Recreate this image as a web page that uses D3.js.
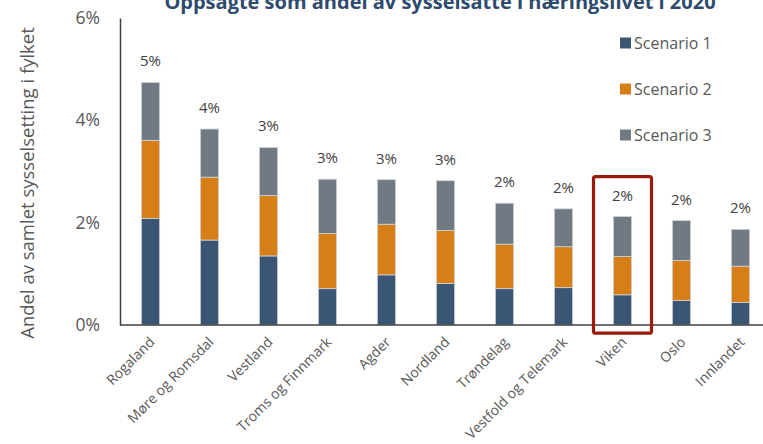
<!DOCTYPE html>
<html><head><meta charset="utf-8">
<script src="https://cdn.jsdelivr.net/npm/d3@7"></script>
<style>body{margin:0;background:#fff}svg{display:block;font-family:"Open Sans",sans-serif}</style>
</head><body><svg id="c" width="763" height="444"></svg>
<script>
const categories = ["Rogaland","Møre og Romsdal","Vestland","Troms og Finnmark","Agder","Nordland","Trøndelag","Vestfold og Telemark","Viken","Oslo","Innlandet"];
const seriesNames = ["Scenario 1","Scenario 2","Scenario 3"];
const scenario1 = [2.08,1.66,1.35,0.71,0.98,0.81,0.71,0.73,0.59,0.48,0.44];
const scenario2 = [1.53,1.23,1.18,1.08,0.99,1.04,0.87,0.80,0.75,0.78,0.71];
const scenario3 = [1.13,0.94,0.94,1.06,0.87,0.97,0.80,0.74,0.78,0.78,0.72];
const yTicks = [0,2,4,6];
const highlighted = "Viken";
const colors = ["#3A5674","#D67F17","#717A82"];

const svg = d3.select("#c");
const x = d3.scaleBand().domain(categories).range([121,770]).paddingInner(0.69).paddingOuter(0.345);
const y = d3.scaleLinear().domain([0,6]).range([325,18]);

const rows = categories.map((c,i)=>({cat:c,"Scenario 1":scenario1[i],"Scenario 2":scenario2[i],"Scenario 3":scenario3[i]}));
const stacked = d3.stack().keys(seriesNames)(rows);

// title
svg.append("text").attr("x",440).attr("y",9).attr("text-anchor","middle")
  .attr("font-size",20).attr("font-weight","bold").attr("fill","#2E4B6E")
  .text("Oppsagte som andel av sysselsatte i næringslivet i 2020");

// bars
svg.append("g").selectAll("g").data(stacked).join("g").attr("fill",(d,i)=>colors[i])
  .selectAll("rect").data(d=>d).join("rect")
  .attr("x",d=>x(d.data.cat)).attr("width",x.bandwidth())
  .attr("y",d=>y(d[1])).attr("height",d=>y(d[0])-y(d[1]))
  .attr("stroke","#d0d5da").attr("stroke-width",0.8);

// total labels
svg.append("g").selectAll("text").data(rows).join("text")
  .attr("x",d=>x(d.cat)+x.bandwidth()/2)
  .attr("y",d=>y(d["Scenario 1"]+d["Scenario 2"]+d["Scenario 3"])-16)
  .attr("text-anchor","middle").attr("font-size",15).attr("fill","#404040")
  .text(d=>d3.format(".0%")((d["Scenario 1"]+d["Scenario 2"]+d["Scenario 3"])/100));

// axes
const yAxis = svg.append("g").attr("transform","translate(120,0)")
  .call(d3.axisLeft(y).tickValues(yTicks).tickSize(0).tickPadding(20).tickFormat(d=>d+"%"));
yAxis.select(".domain").attr("stroke","#404040").attr("stroke-width",1.5);
yAxis.selectAll("text").attr("font-size",17.5).attr("fill","#595959").attr("font-family","Open Sans");

const xAxis = svg.append("g").attr("transform","translate(0,325)")
  .call(d3.axisBottom(x).tickSize(0).tickPadding(0));
xAxis.select(".domain").attr("d","M120,0H763").attr("stroke","#404040").attr("stroke-width",1.5);
xAxis.selectAll("text").attr("font-size",14).attr("fill","#595959").attr("font-family","Open Sans")
  .attr("text-anchor","end").attr("dy",0).attr("y",0)
  .attr("transform","translate(5,18) rotate(-45)");

// highlight box
const step = x.step();
svg.append("rect").attr("x",x(highlighted)+x.bandwidth()/2-step/2+0.5).attr("width",step-1)
  .attr("y",y(2.9)).attr("height",y(-0.16)-y(2.9)).attr("rx",2)
  .attr("fill","none").attr("stroke","#9A1A0C").attr("stroke-width",3.2);

// legend
const lg = svg.append("g").selectAll("g").data(seriesNames).join("g")
  .attr("transform",(d,i)=>`translate(620,${43+i*46})`);
lg.append("rect").attr("x",0).attr("y",-5.5).attr("width",11).attr("height",11).attr("fill",(d,i)=>colors[i]);
lg.append("text").attr("x",14).attr("y",0).attr("dy","0.35em").attr("font-size",16).attr("fill","#595959").text(d=>d);

// y title
svg.append("text").attr("transform","translate(28,183) rotate(-90)").attr("text-anchor","middle")
  .attr("dy","0.35em").attr("font-size",18.5).attr("fill","#595959")
  .text("Andel av samlet sysselsetting i fylket");
</script></body></html>
